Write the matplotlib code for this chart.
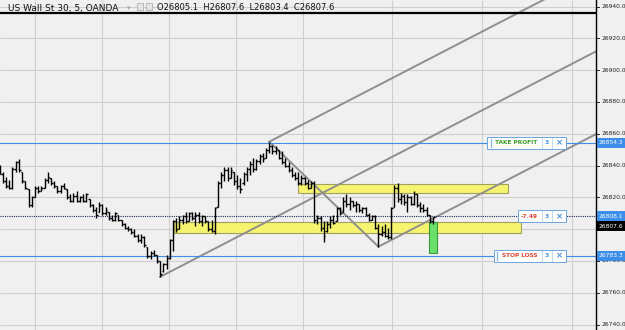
import matplotlib
matplotlib.use('Agg')
import numpy as np
import matplotlib.pyplot as plt
from matplotlib.patches import Rectangle
from matplotlib.transforms import blended_transform_factory

# 5 minute bars, US Wall St 30
highs = [26840.6, 26836, 26832.5, 26831, 26839, 26843, 26844, 26836, 26830, 26825,
         26821, 26827, 26827, 26827, 26832, 26836, 26832, 26830, 26827, 26828,
         26829, 26825, 26822, 26823, 26824, 26821, 26822, 26823, 26819, 26816,
         26814, 26817, 26816, 26814, 26811, 26809, 26811, 26809, 26806, 26804,
         26802, 26801, 26800, 26797, 26797, 26796, 26789, 26786, 26787, 26784,
         26780, 26779, 26784, 26794, 26806, 26807, 26808, 26809, 26811, 26811,
         26811, 26811, 26811, 26809, 26808, 26805, 26806, 26814, 26830, 26836,
         26839, 26839, 26839, 26836, 26834, 26832, 26836, 26839, 26843, 26845,
         26844, 26847, 26848, 26851, 26855, 26853, 26852, 26850, 26849, 26845,
         26842, 26839, 26836, 26836, 26834, 26833, 26831, 26830, 26830, 26809,
         26808, 26805, 26805, 26808, 26809, 26814, 26814, 26820, 26822, 26820,
         26818, 26818, 26816, 26814, 26814, 26810, 26809, 26809, 26803, 26802,
         26803, 26801, 26814, 26828, 26829, 26823, 26822, 26822, 26821, 26824,
         26822, 26817, 26816, 26814, 26809, 26807.6]
lows = [26834.4, 26829, 26826, 26825, 26825, 26836, 26836, 26829, 26825, 26814,
        26814, 26820, 26823, 26824, 26826, 26829, 26828, 26826, 26823, 26823,
        26825, 26819, 26817, 26817, 26817, 26817, 26817, 26817, 26814, 26811,
        26807, 26811, 26809, 26809, 26806, 26805, 26805, 26805, 26802, 26800,
        26799, 26797, 26795, 26792, 26791, 26789, 26782, 26781, 26783, 26779,
        26770, 26773, 26775, 26781, 26786, 26798, 26800, 26803, 26804, 26805,
        26806, 26802, 26804, 26802, 26804, 26799, 26798, 26797, 26814, 26826,
        26830, 26830, 26832, 26828, 26825, 26823, 26828, 26830, 26834, 26836,
        26837, 26841, 26842, 26845, 26848, 26847, 26847, 26844, 26841, 26839,
        26836, 26833, 26831, 26828, 26828, 26828, 26825, 26826, 26804, 26803,
        26799, 26792, 26798, 26801, 26803, 26805, 26809, 26811, 26814, 26812,
        26814, 26811, 26811, 26810, 26808, 26805, 26806, 26800, 26789, 26796,
        26795, 26794, 26794, 26814, 26817, 26816, 26815, 26811, 26815, 26815,
        26814, 26811, 26811, 26808, 26804, 26803.4]
opens = [26838, 26835, 26830, 26827, 26826, 26838, 26842, 26836, 26830, 26825,
         26815, 26820, 26826, 26824, 26826, 26831, 26832, 26829, 26827, 26824,
         26827, 26825, 26820, 26818, 26821, 26818, 26820, 26818, 26819, 26815,
         26812, 26811, 26815, 26810, 26811, 26807, 26806, 26809, 26806, 26803,
         26801, 26800, 26798, 26796, 26793, 26795, 26789, 26783, 26785, 26784,
         26780, 26774, 26778, 26782, 26793, 26805, 26800, 26806, 26808, 26805,
         26810, 26807, 26809, 26805, 26808, 26805, 26800, 26799, 26814, 26829,
         26834, 26837, 26832, 26836, 26830, 26827, 26829, 26835, 26838, 26841,
         26838, 26843, 26846, 26845, 26850, 26852, 26849, 26850, 26845, 26842,
         26840, 26837, 26834, 26832, 26829, 26832, 26829, 26826, 26829, 26806,
         26807, 26801, 26799, 26803, 26806, 26805, 26813, 26811, 26818, 26816,
         26818, 26815, 26816, 26812, 26813, 26809, 26806, 26808, 26801, 26797,
         26798, 26796, 26795, 26814, 26826, 26819, 26821, 26817, 26820, 26816,
         26822, 26815, 26813, 26812, 26809, 26805.1]
closes = [26835, 26830, 26827, 26826, 26838, 26842, 26837, 26830, 26826, 26815,
          26820, 26826, 26824, 26826, 26831, 26833, 26829, 26827, 26824, 26827,
          26826, 26820, 26818, 26821, 26818, 26820, 26818, 26822, 26815, 26812,
          26809, 26815, 26810, 26812, 26807, 26806, 26810, 26806, 26803, 26801,
          26800, 26798, 26796, 26793, 26795, 26790, 26783, 26785, 26784, 26780,
          26772, 26778, 26782, 26793, 26805, 26800, 26806, 26808, 26805, 26810,
          26807, 26809, 26805, 26808, 26805, 26800, 26799, 26813, 26829, 26834,
          26837, 26832, 26837, 26830, 26827, 26825, 26835, 26838, 26841, 26838,
          26843, 26846, 26844, 26850, 26852, 26849, 26851, 26845, 26842, 26840,
          26837, 26834, 26832, 26829, 26832, 26829, 26826, 26829, 26806, 26807,
          26801, 26796, 26803, 26806, 26804, 26813, 26810, 26818, 26816, 26818,
          26815, 26816, 26812, 26813, 26809, 26806, 26808, 26801, 26797, 26798,
          26796, 26795, 26813, 26826, 26819, 26821, 26817, 26820, 26816, 26822,
          26815, 26813, 26812, 26809, 26805.1, 26807.6]

take_profit = 26854.3
stop_loss = 26783.3
entry = 26808.1
last_price = 26807.6
pnl = '-7.49'
lots = '3'

# yellow zones: bar from, bar to, price low, price high
zones = [(92.9, 158.4, 26822.7, 26828.4),
         (54.3, 162.4, 26797.6, 26804.5)]
# channel lines (bar, price) pairs
channel = [((50, 185.8), (26770, 26911.8)),
           ((84, 185.8), (26855, 26961.3)),
           ((118, 185.8), (26789, 26859.8)),
           ((84, 118), (26855, 26789))]
pos_box = (133.8, 136.2, 26785.0, 26804.5)
grid_x = [11.0, 31.9, 52.7, 73.6, 94.5, 122.2, 150.3, 178.3]
price_grid = list(range(26740, 26941, 20))
price_ticks = [26740, 26760, 26780, 26820, 26840, 26860, 26880, 26900, 26920, 26940]

bg = '#f0f0f0'
blue = '#3d8ee8'
fig = plt.figure(figsize=(6.25, 3.3), dpi=100)
fig.patch.set_facecolor(bg)
ax = fig.add_axes([0, 0, 596 / 625, 1])
ax.set_facecolor(bg)
ax.set_xlim(0.11, 185.78)
ax.set_ylim(26736.6, 26944.1)
for s in ['top', 'left', 'bottom']:
    ax.spines[s].set_visible(False)
ax.spines['right'].set_color('black')
ax.spines['right'].set_linewidth(1.0)
ax.set_xticks([])
ax.set_yticks([])
tr = blended_transform_factory(ax.transAxes, ax.transData)
W = 596.0

ax.vlines(grid_x, 26736.6, 26944.1, color='#cfcfcf', lw=0.8, zorder=0)
ax.hlines(price_grid, 0, 186, color='#cfcfcf', lw=0.8, zorder=0)

for x0, x1, p0, p1 in zones:
    ax.add_patch(Rectangle((x0, p0), x1 - x0, p1 - p0, facecolor='#f6f46e',
                           edgecolor='#a0a060', lw=0.8, zorder=1))

for xs, ys in channel:
    ax.plot(xs, ys, color='#8f8f8f', lw=1.4, zorder=2)

ax.axhline(take_profit, color=blue, lw=0.8, zorder=2)
ax.axhline(stop_loss, color=blue, lw=0.8, zorder=2)
ax.axhline(entry, color='#1c2f55', lw=0.8, ls=(0, (1, 1)), zorder=2)

x0, x1, p0, p1 = pos_box
ax.add_patch(Rectangle((x0, p0), x1 - x0, p1 - p0, facecolor='#6ae06a',
                       edgecolor='#3a9a3a', lw=0.8, zorder=3))

xi = np.arange(len(highs))
ax.vlines(xi, lows, highs, color='black', lw=1.0, zorder=4)
ax.hlines(opens, xi - 0.5, xi, color='black', lw=1.0, zorder=4)
ax.hlines(closes, xi, xi + 0.5, color='black', lw=1.0, zorder=4)

# header strip
ax.plot([0, 1], [1 - 12.5 / 330] * 2, transform=ax.transAxes, color='black', lw=1.6, zorder=6)
fig.text(8 / 625, 1 - 10.5 / 330, 'US Wall St 30, 5, OANDA', fontsize=6.5, va='baseline', color='#111')
fig.text(127 / 625, 1 - 10 / 330, '\u25be', fontsize=5, va='baseline', color='#aaaaaa')
for bx in (137, 146):
    fig.patches.append(Rectangle((bx / 625, 1 - 10 / 330), 6 / 625, 7 / 330, transform=fig.transFigure,
                                 facecolor='#e4e4e4', edgecolor='#b0b0b0', lw=0.6))
fig.text(157 / 625, 1 - 10.5 / 330, 'O26805.1  H26807.6  L26803.4  C26807.6', fontsize=6.0,
         va='baseline', color='#111')

# price scale
for p in price_grid:
    ax.plot([1, 1 + 3 / W], [p, p], transform=tr, color='black', lw=0.6, clip_on=False)
for p in price_ticks:
    ax.text(1 + 5 / W, p, f'{p:.1f}', transform=tr, fontsize=4.3, va='center', ha='left',
            color='#222', clip_on=False)


def price_label(p, text, color):
    ax.add_patch(Rectangle((1 + 1 / W, p - 3.2), 29 / W, 6.4, transform=tr, facecolor=color,
                           edgecolor='none', clip_on=False, zorder=7))
    ax.text(1 + 15 / W, p, text, transform=tr, fontsize=4.3, color='white', va='center',
            ha='center', clip_on=False, zorder=8)


price_label(take_profit, f'{take_profit:.1f}', blue)
price_label(entry, f'{entry:.1f}', blue)
price_label(26801.9, f'{last_price:.1f}', 'black')
price_label(stop_loss, f'{stop_loss:.1f}', blue)


def order_box(p, x0, text, color, text_x):
    h = 7.5
    ax.add_patch(Rectangle((x0 / W, p - h / 2), (566 - x0) / W, h, transform=tr,
                           facecolor='white', edgecolor='#6aa6e0', lw=0.7, zorder=7))
    for s in (541.5, 552):
        ax.plot([s / W] * 2, [p - h / 2 + 0.6, p + h / 2 - 0.6], transform=tr,
                color='#b5d2ee', lw=0.6, zorder=8)
    ax.text(text_x / W, p, text, transform=tr, fontsize=4.2, fontweight='bold', color=color,
            va='center', ha='center', zorder=8)
    ax.text(546.8 / W, p, lots, transform=tr, fontsize=4.3, fontweight='bold', color='#4a90d9',
            va='center', ha='center', zorder=8)
    ax.text(559 / W, p, '\u00d7', transform=tr, fontsize=6, fontweight='bold', color='#4a90d9',
            va='center', ha='center', zorder=8)


order_box(take_profit, 487, 'TAKE PROFIT', '#3c9a2a', 516)
ax.plot([490.5 / W] * 2, [take_profit - 2.6, take_profit + 2.6], transform=tr, color='#8fbbe6', lw=1.0, zorder=8)
order_box(stop_loss, 494, 'STOP LOSS', '#d9443a', 519.5)
ax.plot([497 / W] * 2, [stop_loss - 2.6, stop_loss + 2.6], transform=tr, color='#8fbbe6', lw=1.0, zorder=8)
order_box(entry, 518, pnl, '#d9443a', 529.5)

fig.savefig('out.png', dpi=100, facecolor=bg)
